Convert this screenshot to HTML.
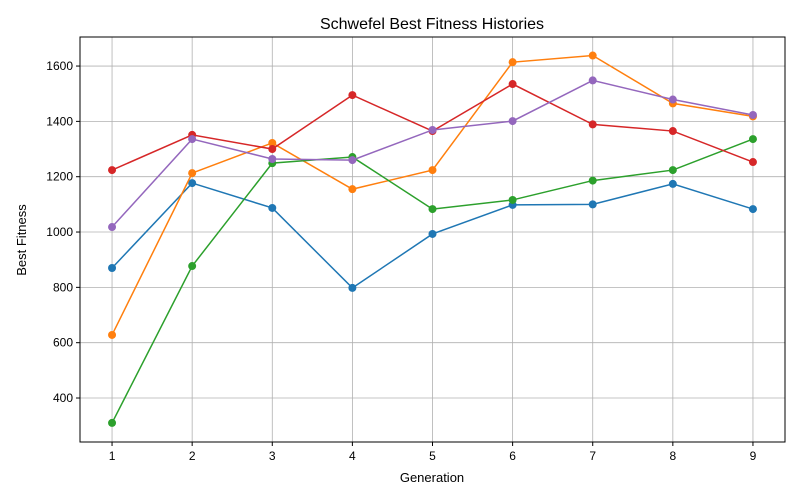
<!DOCTYPE html>
<html><head><meta charset="utf-8"><style>
body{margin:0;background:#fff;}
svg{display:block;font-family:"Liberation Sans","DejaVu Sans",sans-serif;}
</style></head><body>
<svg id="chart" width="800" height="500">
<rect width="800" height="500" fill="#fff"/>
<text x="432" y="29" text-anchor="middle" font-size="16">Schwefel Best Fitness Histories</text>
<g id="grid"></g><g id="series"></g><g id="axes"></g>
<text x="432" y="482" text-anchor="middle" font-size="13">Generation</text>
<text transform="translate(26,240) rotate(-90)" text-anchor="middle" font-size="13">Best Fitness</text>
</svg>
<script>
const generations=[1,2,3,4,5,6,7,8,9];
const blueValues=[870,1177,1087,798,993,1098,1100,1174,1083];
const orangeValues=[628,1213,1322,1155,1224,1614,1638,1465,1418];
const greenValues=[310,877,1249,1271,1083,1116,1186,1224,1336];
const redValues=[1224,1351,1300,1495,1365,1535,1389,1365,1253];
const purpleValues=[1018,1336,1264,1260,1369,1401,1548,1479,1423];
const xTicks=[1,2,3,4,5,6,7,8,9];
const yTicks=[400,600,800,1000,1200,1400,1600];
const L=80,R=785,T=37,B=442,xMin=0.6,xMax=9.4,yMin=241,yMax=1705;
const sx=v=>L+(v-xMin)/(xMax-xMin)*(R-L);
const sy=v=>B-(v-yMin)/(yMax-yMin)*(B-T);
const NS="http://www.w3.org/2000/svg";
function mk(tag,attrs,parent){const e=document.createElementNS(NS,tag);for(const k in attrs)e.setAttribute(k,attrs[k]);parent.appendChild(e);return e;}
const grid=document.getElementById('grid'),axes=document.getElementById('axes'),series=document.getElementById('series');
xTicks.forEach(t=>{const x=sx(t);
 const g=mk('line',{x1:x,x2:x,y1:T,y2:B,stroke:'#b0b0b0','stroke-width':0.8},grid);
 
 
 mk('line',{x1:x,x2:x,y1:B,y2:B+4,stroke:'#000'},axes);
 const tx=mk('text',{x:x,y:B+18,'text-anchor':'middle','font-size':12},axes);tx.textContent=t;
 
 
});
yTicks.forEach(t=>{const y=sy(t);
 const g=mk('line',{x1:L,x2:R,y1:y,y2:y,stroke:'#b0b0b0','stroke-width':0.8},grid);
 
 
 mk('line',{x1:L-4,x2:L,y1:y,y2:y,stroke:'#000'},axes);
 const tx=mk('text',{x:L-7,y:y+4,'text-anchor':'end','font-size':12},axes);tx.textContent=t;
 
 
});
const frame=mk('rect',{x:L,y:T,width:R-L,height:B-T,fill:'none',stroke:'#000','stroke-width':1},axes);


const all=[[blueValues,'#1f77b4','blue'],[orangeValues,'#ff7f0e','orange'],[greenValues,'#2ca02c','green'],[redValues,'#d62728','red'],[purpleValues,'#9467bd','purple']];
all.forEach(([vals,c,n])=>{
 const g=mk('g',{},series);
 
 
 const pts=vals.map((v,i)=>sx(generations[i])+','+sy(v)).join(' ');
 mk('polyline',{points:pts,fill:'none',stroke:c,'stroke-width':1.5},g);
 vals.forEach((v,i)=>{const p=mk('circle',{cx:sx(generations[i]),cy:sy(v),r:4,fill:c},g);
  
  });
});
</script>
</body></html>
